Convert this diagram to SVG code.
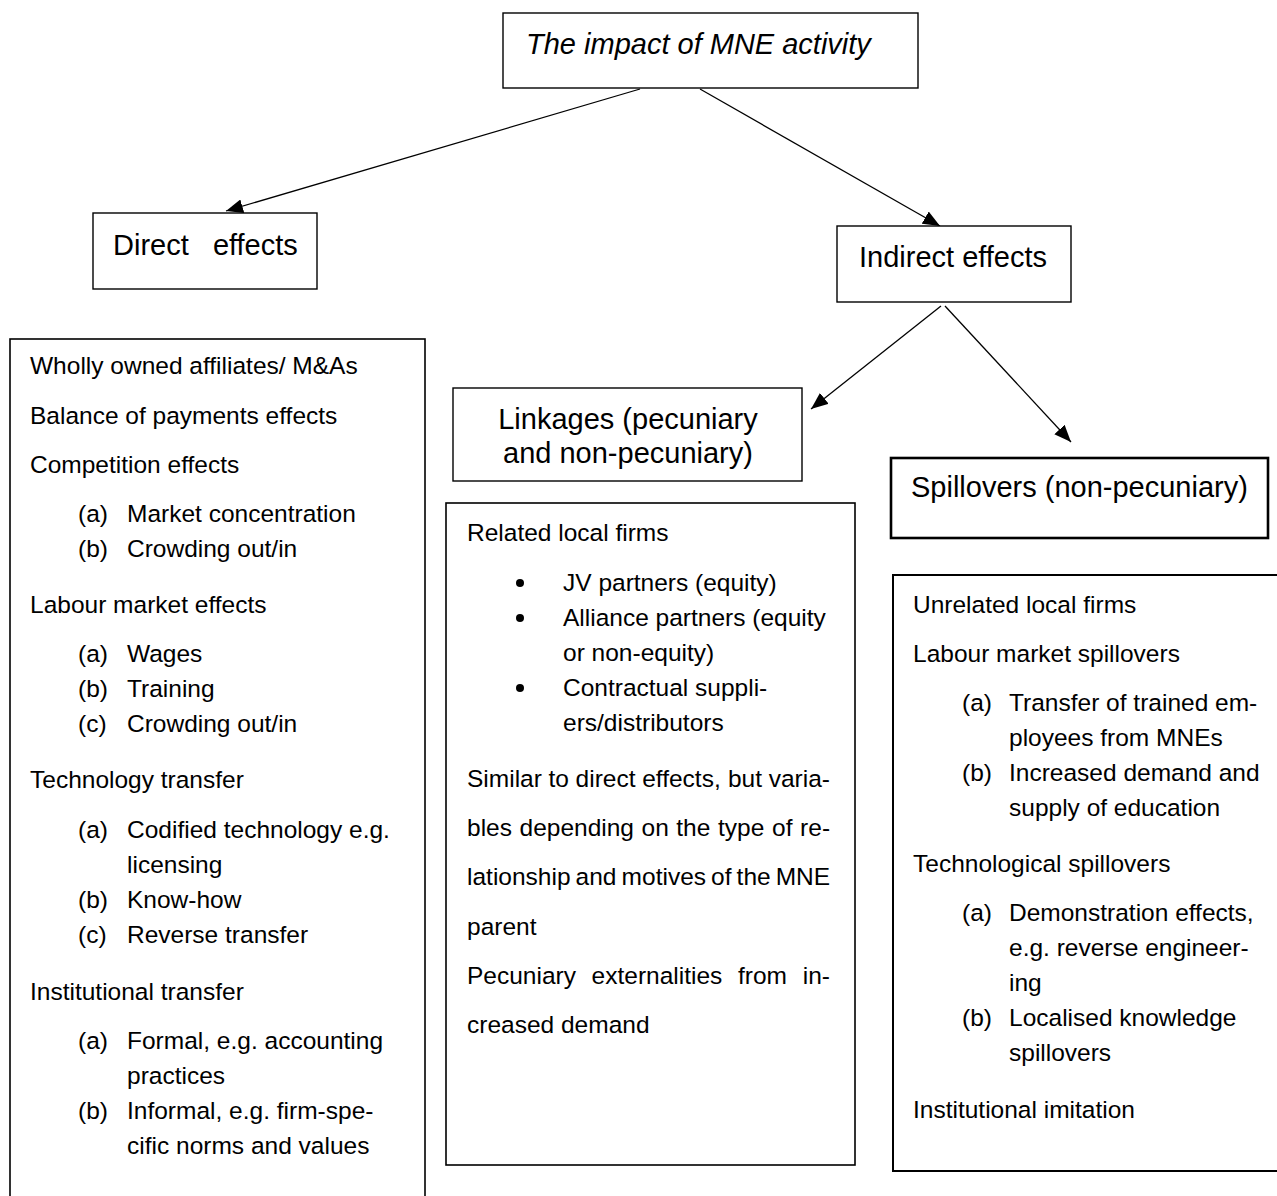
<svg xmlns="http://www.w3.org/2000/svg" width="1277" height="1196" viewBox="0 0 1277 1196">
  <defs>
    <marker id="arrow" markerUnits="userSpaceOnUse" markerWidth="18" markerHeight="14" refX="17" refY="7" orient="auto">
      <path d="M0,0 L17,7 L0,14 z" fill="#000"/>
    </marker>
    <style>
      .box { fill: #fff; stroke: #000; stroke-width: 1.4; }
      .head { font-family: "Liberation Sans", Arial, sans-serif; font-size: 29px; fill: #000; }
      .body { font-family: "Liberation Sans", Arial, sans-serif; font-size: 24.5px; fill: #000; }
      .conn { stroke: #000; stroke-width: 1.3; fill: none; marker-end: url(#arrow); }
    </style>
  </defs>
  <rect width="1277" height="1196" fill="#fff"/>

  <g id="connectors">
    <line class="conn" x1="640" y1="89" x2="226" y2="211"/>
    <line class="conn" x1="700" y1="89" x2="940" y2="226"/>
    <line class="conn" x1="941" y1="306" x2="811" y2="409"/>
    <line class="conn" x1="945" y1="306" x2="1071" y2="442"/>
  </g>

  <g id="mne-activity">
    <rect class="box" x="503" y="13" width="415" height="75"/>
    <text class="head" x="526" y="54" font-style="italic">The impact of MNE activity</text>
  </g>

  <g id="direct-effects">
    <rect class="box" x="93" y="213" width="224" height="76"/>
    <text class="head" x="113" y="255" xml:space="preserve">Direct   effects</text>
  </g>

  <g id="indirect-effects">
    <rect class="box" x="837" y="226" width="234" height="76"/>
    <text class="head" x="953" y="267" text-anchor="middle">Indirect effects</text>
  </g>

  <g id="linkages">
    <rect class="box" x="453" y="388" width="349" height="93"/>
    <text class="head" x="628" y="429" text-anchor="middle">Linkages (pecuniary</text>
    <text class="head" x="628" y="463" text-anchor="middle">and non-pecuniary)</text>
  </g>

  <g id="spillovers">
    <rect class="box" x="891" y="458" width="377" height="80" style="stroke-width:2.6"/>
    <text class="head" x="911" y="497">Spillovers (non-pecuniary)</text>
  </g>

  <g id="direct-list">
    <rect class="box" x="10" y="339" width="415" height="900" style="stroke-width:1.6"/>
    <text class="body" x="30" y="374">Wholly owned affiliates/ M&amp;As</text>
    <text class="body" x="30" y="424">Balance of payments effects</text>
    <text class="body" x="30" y="473">Competition effects</text>
    <text class="body" x="78" y="522">(a)</text><text class="body" x="127" y="522">Market concentration</text>
    <text class="body" x="78" y="557">(b)</text><text class="body" x="127" y="557">Crowding out/in</text>
    <text class="body" x="30" y="613">Labour market effects</text>
    <text class="body" x="78" y="662">(a)</text><text class="body" x="127" y="662">Wages</text>
    <text class="body" x="78" y="697">(b)</text><text class="body" x="127" y="697">Training</text>
    <text class="body" x="78" y="732">(c)</text><text class="body" x="127" y="732">Crowding out/in</text>
    <text class="body" x="30" y="788">Technology transfer</text>
    <text class="body" x="78" y="838">(a)</text><text class="body" x="127" y="838">Codified technology e.g.</text>
    <text class="body" x="127" y="873">licensing</text>
    <text class="body" x="78" y="908">(b)</text><text class="body" x="127" y="908">Know-how</text>
    <text class="body" x="78" y="943">(c)</text><text class="body" x="127" y="943">Reverse transfer</text>
    <text class="body" x="30" y="1000">Institutional transfer</text>
    <text class="body" x="78" y="1049">(a)</text><text class="body" x="127" y="1049">Formal, e.g. accounting</text>
    <text class="body" x="127" y="1084">practices</text>
    <text class="body" x="78" y="1119">(b)</text><text class="body" x="127" y="1119">Informal, e.g. firm-spe-</text>
    <text class="body" x="127" y="1154">cific norms and values</text>
  </g>

  <g id="linkages-list">
    <rect class="box" x="446" y="503" width="409" height="662" style="stroke-width:1.6"/>
    <text class="body" x="467" y="541">Related local firms</text>
    <circle cx="520" cy="583" r="4"/>
    <text class="body" x="563" y="591">JV partners (equity)</text>
    <circle cx="520" cy="618" r="4"/>
    <text class="body" x="563" y="626">Alliance partners (equity</text>
    <text class="body" x="563" y="661">or non-equity)</text>
    <circle cx="520" cy="688" r="4"/>
    <text class="body" x="563" y="696">Contractual suppli-</text>
    <text class="body" x="563" y="731">ers/distributors</text>
    <!-- justified paragraph: each word placed so lines run flush from 467 to 830 -->
    <text class="body" y="787"><tspan x="467">Similar</tspan><tspan x="548.5">to</tspan><tspan x="575.6">direct</tspan><tspan x="642.2">effects,</tspan><tspan x="727.9">but</tspan><tspan x="768.7">varia-</tspan></text>
    <text class="body" y="836"><tspan x="467">bles</tspan><tspan x="519.5">depending</tspan><tspan x="641.5">on</tspan><tspan x="676.3">the</tspan><tspan x="718">type</tspan><tspan x="772">of</tspan><tspan x="800.1">re-</tspan></text>
    <text class="body" y="885"><tspan x="467">lationship</tspan><tspan x="575.6">and</tspan><tspan x="621.6">motives</tspan><tspan x="711.1">of</tspan><tspan x="736.6">the</tspan><tspan x="775.7">MNE</tspan></text>
    <text class="body" x="467" y="935">parent</text>
    <text class="body" y="984"><tspan x="467">Pecuniary</tspan><tspan x="591.6">externalities</tspan><tspan x="738">from</tspan><tspan x="802.7">in-</tspan></text>
    <text class="body" x="467" y="1033">creased demand</text>
  </g>

  <g id="spillovers-list">
    <rect class="box" x="893" y="575" width="400" height="596" style="stroke-width:2"/>
    <text class="body" x="913" y="613">Unrelated local firms</text>
    <text class="body" x="913" y="662">Labour market spillovers</text>
    <text class="body" x="962" y="711">(a)</text><text class="body" x="1009" y="711">Transfer of trained em-</text>
    <text class="body" x="1009" y="746">ployees from MNEs</text>
    <text class="body" x="962" y="781">(b)</text><text class="body" x="1009" y="781">Increased demand and</text>
    <text class="body" x="1009" y="816">supply of education</text>
    <text class="body" x="913" y="872">Technological spillovers</text>
    <text class="body" x="962" y="921">(a)</text><text class="body" x="1009" y="921">Demonstration effects,</text>
    <text class="body" x="1009" y="956">e.g. reverse engineer-</text>
    <text class="body" x="1009" y="991">ing</text>
    <text class="body" x="962" y="1026">(b)</text><text class="body" x="1009" y="1026">Localised knowledge</text>
    <text class="body" x="1009" y="1061">spillovers</text>
    <text class="body" x="913" y="1118">Institutional imitation</text>
  </g>
</svg>
